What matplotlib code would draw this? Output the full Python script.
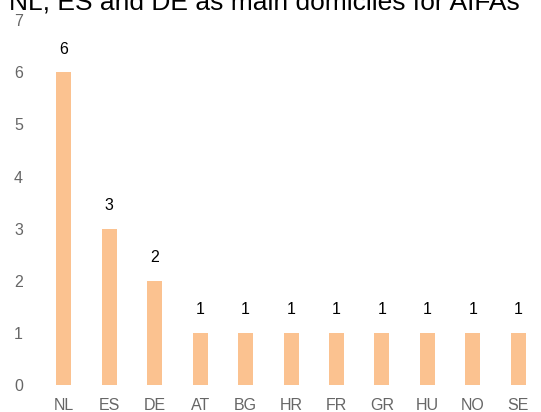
import matplotlib
matplotlib.use("Agg")
import matplotlib.pyplot as plt

countries = ["NL", "ES", "DE", "AT", "BG", "HR", "FR", "GR", "HU", "NO", "SE"]
counts = [6, 3, 2, 1, 1, 1, 1, 1, 1, 1, 1]
title = "NL, ES and DE as main domiciles for AIFAs"

plt.rcParams["font.family"] = ["Liberation Sans", "DejaVu Sans"]

fig = plt.figure(figsize=(5.41, 4.12), dpi=100)
ax = fig.add_axes([0.076, 0.0655, 0.924, 0.8855])

x = range(len(countries))
bars = ax.bar(x, counts, width=0.33, color="#fbc290", edgecolor="none")
for b, v in zip(bars, counts):
    ax.text(b.get_x() + b.get_width() / 2, v + 0.3, str(v),
            ha="center", va="bottom", fontsize=11.5, color="black")

ax.set_xlim(-0.5, len(countries) - 0.5)
ax.set_ylim(0, 7)
ax.set_yticks(range(0, 8))
ax.set_xticks(list(x))
ax.set_xticklabels(countries)
ax.tick_params(axis="both", length=0, labelsize=11.5, labelcolor="#666666")
ax.tick_params(axis="y", pad=13)
ax.tick_params(axis="x", pad=9)
for s in ax.spines.values():
    s.set_visible(False)

fig.text(0.488, 0.977, title, ha="center", va="baseline", fontsize=19, color="black")

fig.savefig("out.png", dpi=100)
